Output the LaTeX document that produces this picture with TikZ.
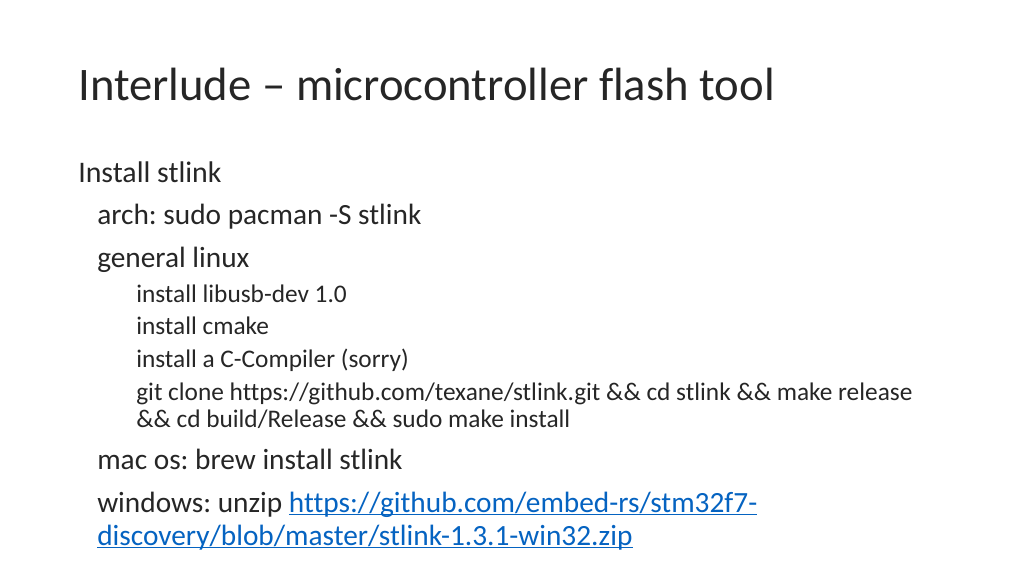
\documentclass[tikz,border=0pt]{standalone}
\usepackage{fontspec}
\setmainfont{Carlito}[Ligatures=NoCommon]
\frenchspacing
\definecolor{txt}{HTML}{262626}
\definecolor{lnk}{HTML}{0563C1}
\begin{document}
\frenchspacing
\begin{tikzpicture}[x=0.75pt,y=-0.75pt,
  lA/.style={anchor=base west,inner sep=0pt,text=txt,font=\fontsize{22.4}{26}\selectfont},
  lB/.style={anchor=base west,inner sep=0pt,text=txt,font=\fontsize{22}{26}\selectfont},
  lC/.style={anchor=base west,inner sep=0pt,text=txt,font=\fontsize{19}{22}\selectfont}]
\useasboundingbox[fill=white] (0,0) rectangle (1024,576);
\node[anchor=base west,inner sep=0pt,text=txt,font=\fontsize{35}{40}\selectfont] (title) at (78,100) {Interlude – microcontroller flash tool};
\node[lA] (l1) at (78,182) {Install stlink};
\node[lB] (l2) at (97,224) {arch: sudo pacman -S stlink};
\node[lB] (l3) at (97,267) {general linux};
\node[lC] (l4) at (136,302) {install libusb-dev 1.0};
\node[lC] (l5) at (136,334) {install cmake};
\node[lC] (l6) at (136,367) {install a C-Compiler (sorry)};
\node[lC] (l7) at (136,400) {git clone https://github.com/texane/stlink.git \&\& cd stlink \&\& make release};
\node[lC] (l8) at (136,427) {\&\& cd build/Release \&\& sudo make install};
\node[lB] (l9) at (97,469) {mac os: brew install stlink};
\node[lB] (l10) at (97,512) {windows: unzip \textcolor{lnk}{\underbar{https://github.com/embed-rs/stm32f7-}}};
\node[lB,text=lnk] (l11) at (97,545) {\underbar{discovery/blob/master/stlink-1.3.1-win32.zip}};
\end{tikzpicture}
\end{document}
